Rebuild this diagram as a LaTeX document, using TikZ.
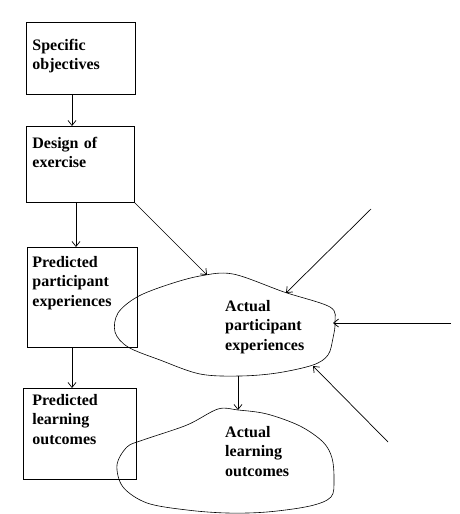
\documentclass[tikz,border=0pt]{standalone}
\usepackage{fontspec}
\setmainfont{Liberation Serif}
\usetikzlibrary{arrows.meta}

\begin{document}
\begin{tikzpicture}[x=1pt,y=-1pt,
    >={Straight Barb[length=5pt,width=8pt]},
    stagebox/.style={draw, line width=0.8pt, anchor=north west, align=left, inner xsep=6pt, inner ysep=0pt, font=\fontsize{16pt}{19.5pt}\selectfont\bfseries},
    blobtext/.style={anchor=base west, align=left, inner sep=0pt, text width=100pt, font=\fontsize{16pt}{19.5pt}\selectfont\bfseries},
    blob/.style={line width=0.6pt},
    link/.style={->, line width=0.7pt}]
\useasboundingbox (0,0) rectangle (459,514);

\node[stagebox, text width=97pt, text height=28pt, text depth=44pt] (objectives) at (26,22) {Specific\\objectives};
\node[stagebox, text width=96pt, text height=22pt, text depth=54pt] (design) at (26,126) {Design of\\exercise};
\node[stagebox, inner xsep=5pt, text width=100pt, text height=20pt, text depth=80pt] (predexp) at (27,247) {Predicted\\participant\\experiences};
\node[stagebox, inner xsep=9pt, text width=95pt, text height=17pt, text depth=74pt] (predout) at (23,388) {Predicted\\learning\\outcomes};

% actual participant experiences
\draw[blob] plot[smooth cycle, tension=0.55] coordinates {(200,276) (233,274) (284,292) (330,307) (335,322) (333,338) (328,355) (313,365) (277,373) (240,376) (200,374) (160,360) (128,347) (115,332) (118,313) (137,297) (167,285)};
\node[blobtext] (actexp) at (225,311) {Actual\\participant\\experiences};
% actual learning outcomes
\draw[blob] plot[smooth cycle, tension=0.55] coordinates {(218,409) (238,410) (267,414) (300,426) (323,442) (332,458) (334,480) (331,497) (310,506) (267,512) (227,513) (187,510) (147,503) (123,487) (117,465) (127,447) (143,440) (187,425)};
\node[blobtext] (actout) at (225,437) {Actual\\learning\\outcomes};

\coordinate (expN) at (207,275);
\coordinate (expNE) at (286,293);
\coordinate (expE) at (333,323);
\coordinate (expSE) at (313,366);
\coordinate (expS) at (238,376);
\coordinate (outN) at (238,410);
\coordinate (inA) at (371,209);
\coordinate (inB) at (451,323);
\coordinate (inC) at (388,442);

\draw[link] ([xshift=46pt]objectives.south west) -- ([xshift=46pt]design.north west);
\draw[link] ([xshift=50pt]design.south west) -- ([xshift=49pt]predexp.north west);
\draw[link] ([xshift=45pt]predexp.south west) -- ([xshift=49pt]predout.north west);
\draw[link] (design.south east) -- (expN);
\draw[link] (inA) -- (expNE);
\draw[link] (inB) -- (expE);
\draw[link] (inC) -- (expSE);
\draw[link] (expS) -- (outN);
\end{tikzpicture}
\end{document}
